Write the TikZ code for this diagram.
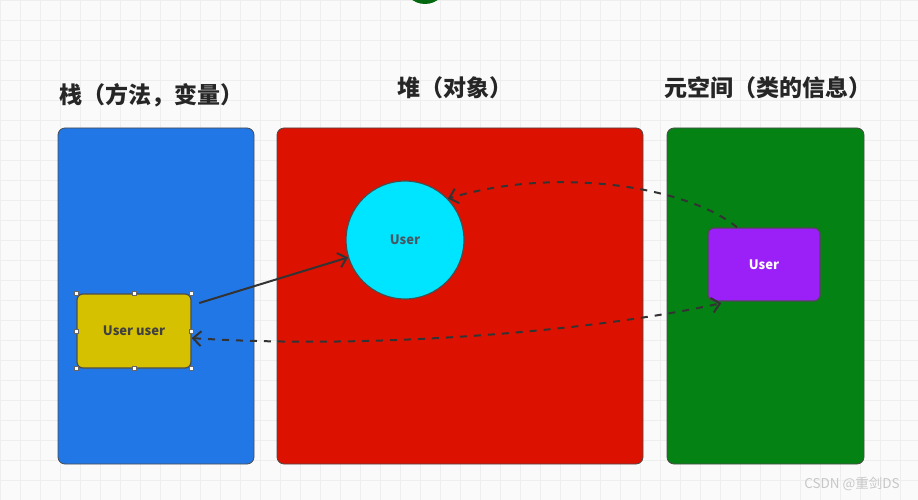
\documentclass[tikz,border=0pt]{standalone}
\usepackage{fontspec}
\setmainfont{Noto Sans CJK SC}
\usetikzlibrary{arrows.meta}
\definecolor{stackblue}{HTML}{2277E6}
\definecolor{heapred}{HTML}{DD1100}
\definecolor{metagreen}{HTML}{058214}
\definecolor{varyellow}{HTML}{D6C100}
\definecolor{objcyan}{HTML}{00E5FF}
\definecolor{classpurple}{HTML}{9B20F8}
\definecolor{gridgray}{HTML}{EEEEEE}
\tikzset{
  area/.style={draw=black!70,line width=0.8pt,rounded corners=7pt,minimum width=#1,minimum height=336pt,inner sep=0pt},
  title/.style={font=\fontsize{23}{25}\selectfont\bfseries,text=black!85},
  item/.style={draw=black!70,line width=1.2pt,rounded corners=6pt,inner sep=0pt,font=\fontsize{13}{15}\selectfont\bfseries},
  handle/.style={draw=black!60,fill=white,minimum size=4pt,inner sep=0pt},
  ref/.style={black!80,line width=2pt,->},
  dref/.style={ref,dash pattern=on 7pt off 7pt}
}
\begin{document}
\begin{tikzpicture}[x=1pt,y=-1pt,>={Straight Barb[length=8pt,width=15pt]}]
    \useasboundingbox (0,0) rectangle (918,500);
    \clip (0,0) rectangle (918,500);
    \fill[black!2] (0,0) rectangle (918,500);
    \foreach \gx in {0,20,...,900} \draw[gridgray,line width=0.7pt] (\gx,0) -- (\gx,500);
    \foreach \gy in {0,20,...,500} \draw[gridgray,line width=0.7pt] (0,\gy) -- (918,\gy);
    \fill[metagreen!80!black] (425,-18) circle (22);

    \node[title] (stacktitle) at (151,95) {栈（方法，变量）};
    \node[title] (heaptitle) at (455,88) {堆（对象）};
    \node[title] (metatitle) at (768,88) {元空间（类的信息）};

    \node[area=196pt,fill=stackblue] (stack) at (156,296) {};
    \node[area=366pt,fill=heapred] (heap) at (460,296) {};
    \node[area=197pt,fill=metagreen] (meta) at (765.5,296) {};

    \node[item,fill=varyellow,text=black!75,minimum width=114pt,minimum height=74pt] (var) at (134,331) {User user};
    \node[item,fill=classpurple,text=white,minimum width=112pt,minimum height=73pt] (cls) at (764,264.5) {User};
    \node[circle,draw=black!70,line width=1.2pt,fill=objcyan,minimum size=118pt,inner sep=0pt,font=\fontsize{13}{15}\selectfont\bfseries,text=black!70!cyan] (obj) at (405,240) {User};

    \foreach \a in {north west,north,north east,west,east,south west,south,south east}
        \node[handle] at (var.\a) {};

    \draw[ref,shorten <=8pt] (var.24) -- (obj.197);
    \draw[dref] (cls.126) .. controls (690,188) and (560,165) .. (obj.44);
    \draw[dref,<->,shorten >=7pt] (var.-7) .. controls (380,350) and (600,330) .. (cls.226);

    \node[text=black!22,font=\fontsize{13.5}{16}\selectfont] (mark) at (852,484) {CSDN @重剑DS};
\end{tikzpicture}
\end{document}
